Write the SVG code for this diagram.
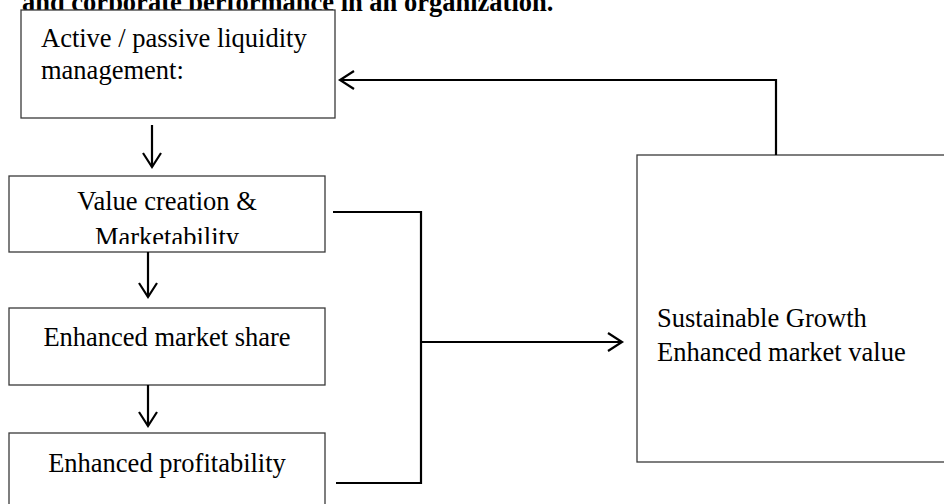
<svg xmlns="http://www.w3.org/2000/svg" width="944" height="504" viewBox="0 0 944 504">
  <defs>
    <style>
      .box { fill: #ffffff; stroke: #3a3a3a; stroke-width: 1.3; }
      .txt { font-family: "Liberation Serif", "Times New Roman", serif; font-size: 26.5px; fill: #000; }
      .title { font-family: "Liberation Serif", "Times New Roman", serif; font-size: 26.5px; font-weight: bold; fill: #000; }
      .conn { fill: none; stroke: #000; stroke-width: 2.2; }
    </style>
    <marker id="arr" markerUnits="userSpaceOnUse" markerWidth="30" markerHeight="30" refX="15" refY="15" orient="auto" viewBox="0 0 30 30">
      <path d="M1,6 L15,15 L1,24" fill="none" stroke="#000" stroke-width="2.2"/>
    </marker>
    <clipPath id="clip2">
      <rect x="9" y="176" width="316" height="68"/>
    </clipPath>
  </defs>
  <rect x="0" y="0" width="944" height="504" fill="#ffffff"/>

  <text class="title" x="22" y="11">and corporate performance in an organization.</text>

  <g id="node-liquidity">
    <rect class="box" x="21" y="10" width="314" height="108"/>
    <text class="txt" x="41" y="47">Active / passive liquidity</text>
    <text class="txt" x="41" y="79">management:</text>
  </g>

  <g id="node-value">
    <rect class="box" x="9" y="176" width="316" height="76"/>
    <g clip-path="url(#clip2)">
      <text class="txt" x="167" y="210" text-anchor="middle">Value creation &amp;</text>
      <text class="txt" x="167" y="246" text-anchor="middle">Marketability</text>
    </g>
  </g>

  <g id="node-share">
    <rect class="box" x="9" y="308" width="316" height="77"/>
    <text class="txt" x="167" y="346" text-anchor="middle">Enhanced market share</text>
  </g>

  <g id="node-profit">
    <rect class="box" x="9" y="433" width="316" height="80"/>
    <text class="txt" x="167" y="472" text-anchor="middle">Enhanced profitability</text>
  </g>

  <g id="node-growth">
    <rect class="box" x="637" y="155" width="320" height="307"/>
    <text class="txt" x="657" y="327">Sustainable Growth</text>
    <text class="txt" x="657" y="361">Enhanced market value</text>
  </g>

  <g id="connectors">
    <path class="conn" d="M152,125 L152,167" marker-end="url(#arr)"/>
    <path class="conn" d="M148,252 L148,297" marker-end="url(#arr)"/>
    <path class="conn" d="M148,385 L148,426" marker-end="url(#arr)"/>
    <path class="conn" d="M333,212 L421,212 L421,483 L336,483"/>
    <path class="conn" d="M421,342 L622,342" marker-end="url(#arr)"/>
    <path class="conn" d="M776,155 L776,80 L340,80" marker-end="url(#arr)"/>
  </g>
</svg>
